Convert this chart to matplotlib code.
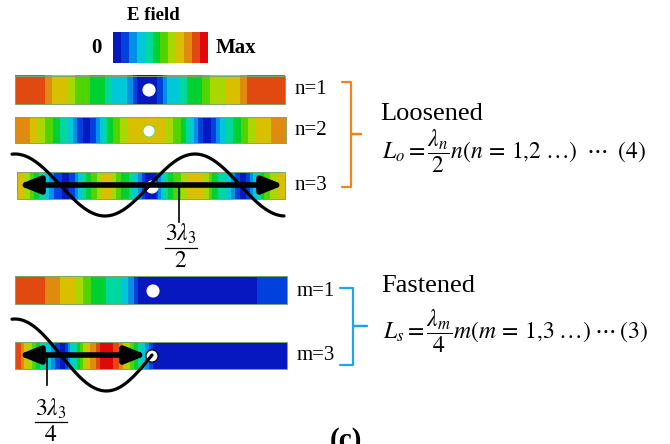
import numpy as np
import matplotlib
matplotlib.use("Agg")
import matplotlib.pyplot as plt
from matplotlib.colors import ListedColormap, BoundaryNorm
from matplotlib.patches import Circle, Rectangle, FancyArrowPatch, ArrowStyle

plt.rcParams["font.family"] = ["Liberation Serif", "DejaVu Serif"]
plt.rcParams["mathtext.fontset"] = "stix"

# E-field level along each bar (0 = weakest ... 11 = strongest), left to right
n1_field = [10, 10, 10, 10, 9, 8, 8, 7, 6, 6, 5, 5, 4, 3, 3, 2, 0, 0,
            0, 1, 3, 3, 4, 5, 5, 6, 7, 7, 8, 8, 9, 10, 10, 10, 10, 10]
n2_field = [9, 9, 8, 7, 6, 5, 4, 3, 1, 0, 1, 3, 5, 6, 7, 8, 8, 8,
            8, 8, 7, 6, 5, 3, 1, 0, 1, 3, 4, 5, 6, 7, 8, 8, 9, 9]
n3_field = [8, 7, 5, 4, 2, 1, 0, 1, 3, 5, 6, 8, 8, 6, 5, 4, 2, 0,
            0, 3, 5, 6, 7, 8, 8, 7, 5, 4, 3, 1, 0, 2, 4, 6, 7, 8]
m1_field = [10, 10, 10, 10, 9, 9, 8, 8, 7, 6, 5, 5, 4, 4, 3, 2, 0, 0,
            0, 0, 0, 0, 0, 0, 0, 0, 0, 0, 0, 0, 0, 0, 1, 1, 1, 1]
m3_field = [10, 8, 6, 4, 3, 1, 0, 3, 5, 8, 9, 11, 11, 10, 8, 6, 4, 2,
            0, 0, 0, 0, 0, 0, 0, 0, 0, 0, 0, 0, 0, 0, 0, 0, 0, 0]
colorbar_levels = list(range(12))

n_labels = ["n=1", "n=2", "n=3"]
m_labels = ["m=1", "m=3"]
n3_half_waves = 3      # L = 3 * lambda_3 / 2
m3_quarter_waves = 3   # L = 3 * lambda_3 / 4

field_colors = ["#0818c0", "#0040dc", "#0090e8", "#00c8d8", "#00d8a0", "#00d030",
                "#50d400", "#a8d800", "#d8c000", "#e08a10", "#e04a10", "#e00808"]
cmap = ListedColormap(field_colors)
norm = BoundaryNorm(np.arange(-0.5, 12.5, 1), cmap.N)

fig = plt.figure(figsize=(6.7, 4.44), dpi=100)
ax = fig.add_axes([0, 0, 1, 1])


def field_bar(levels, x0, x1, y0, y1, hole=None, hole_edge="white"):
    row = np.array(levels, float)
    ax.imshow(np.vstack([row, row]), cmap=cmap, norm=norm,
              extent=(x0, x1, y1, y0), aspect="auto",
              interpolation="bilinear", interpolation_stage="data", zorder=1)
    ax.add_patch(Rectangle((x0, y0), x1 - x0, y1 - y0, fill=False,
                           ec="#7aa86a", lw=0.7, zorder=2))
    if hole is not None:
        ax.add_patch(Circle(hole, 6, fc="white", ec=hole_edge, lw=0.8, zorder=3))


def wave(x0, x1, yc, amp, length, quarters):
    lam = 4.0 * length / quarters
    x = np.linspace(x0, x1, 300)
    y = yc - amp * np.cos(2 * np.pi * (x - 15) / lam)
    ax.plot(x, y, color="black", lw=2.3, solid_capstyle="round", zorder=4)


def double_arrow(x0, x1, y):
    st = ArrowStyle("<|-|>", head_length=0.9, head_width=0.36)
    ax.add_patch(FancyArrowPatch((x0, y), (x1, y), arrowstyle=st, mutation_scale=14,
                                 lw=4.0, color="black", shrinkA=0, shrinkB=0, zorder=5))


def fraction(x, y_num, y_bar, y_den, num, den, half):
    ax.text(x, y_num, num, ha="center", va="center", fontsize=17)
    ax.plot([x - half, x + half], [y_bar, y_bar], color="black", lw=0.9)
    ax.text(x, y_den, den, ha="center", va="center", fontsize=17)


# colour scale
ax.text(153, 15, "E field", ha="center", va="center", fontsize=13.5, fontweight="bold")
ax.imshow(np.array(colorbar_levels, float)[None, :], cmap=cmap, norm=norm,
          extent=(113, 208, 63, 32), aspect="auto", interpolation="nearest")
ax.text(96, 48, "0", ha="center", va="center", fontsize=15, fontweight="bold")
ax.text(216, 48, "Max", ha="left", va="center", fontsize=15, fontweight="bold")

# loosened modes
field_bar(n1_field, 15, 285, 76, 104, hole=(149, 90))
field_bar(n2_field, 15, 286, 117, 143, hole=(149, 131), hole_edge="#7ad070")
field_bar(n3_field, 17, 285, 172, 199, hole=(152, 187))
wave(12, 284, 185, 31, 270, 2 * n3_half_waves)
double_arrow(18, 284, 185)
ax.plot([179, 179], [185, 222], color="black", lw=1.2, zorder=4)
fraction(181, 234, 248, 261, r"$3\lambda_3$", "$2$", 16)

for lab, y in zip(n_labels, [89, 130, 185]):
    ax.text(295, y, lab, ha="left", va="center", fontsize=15)

# fastened modes
field_bar(m1_field, 15, 287, 276, 304, hole=(153, 291))
field_bar(m3_field, 15, 287, 342, 369, hole=(152, 356), hole_edge="black")
wave(12, 152, 355, 36, 137, m3_quarter_waves)
double_arrow(18, 147, 355)
ax.plot([47, 47], [355, 385], color="black", lw=1.2, zorder=4)
fraction(51, 409, 422, 435, r"$3\lambda_3$", "$4$", 16)

for lab, y in zip(m_labels, [291, 355]):
    ax.text(297, y, lab, ha="left", va="center", fontsize=15)

# brackets
ax.plot([342, 351, 351, 361, 351, 351, 342], [82, 82, 134, 134, 134, 187, 187],
        color="#f5821f", lw=1.6, solid_joinstyle="round", solid_capstyle="round")
ax.plot([340, 353, 353, 367, 353, 353, 340], [288, 288, 326, 326, 326, 365, 365],
        color="#1ea5ef", lw=1.6, solid_joinstyle="round", solid_capstyle="round")

ax.text(380, 120, "Loosened", ha="left", va="baseline", fontsize=19)
ax.text(382, 159, r"$L_o = \dfrac{\lambda_n}{2}n(n\,=\,1{,}2\;\ldots)\;\;\cdots\;\;(4)$",
        ha="left", va="baseline", fontsize=17)
ax.text(381, 292, "Fastened", ha="left", va="baseline", fontsize=19)
ax.text(383, 339, r"$L_s = \dfrac{\lambda_m}{4}m(m\,=\,1{,}3\;\ldots)\;\cdots\,(3)$",
        ha="left", va="baseline", fontsize=17)

ax.text(330, 427, "(c)", ha="left", va="top", fontsize=21, fontweight="bold")

ax.set_xlim(0, 670)
ax.set_ylim(444, 0)
ax.axis("off")
fig.savefig("out.png", dpi=100)
